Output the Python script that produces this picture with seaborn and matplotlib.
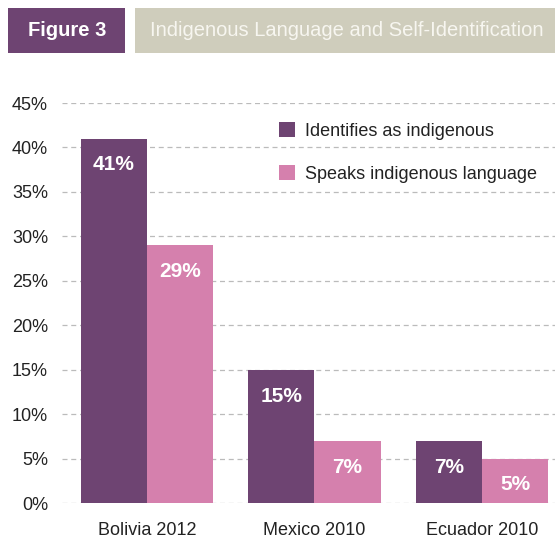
import matplotlib
matplotlib.use("Agg")
import matplotlib.pyplot as plt
from matplotlib.patches import Rectangle, Patch
import pandas as pd
import seaborn as sns

# Share of population (%) by census/survey
countries = ["Bolivia 2012", "Mexico 2010", "Ecuador 2010"]
identifies = [41, 15, 7]
speaks = [29, 7, 5]
series_names = ["Identifies as indigenous", "Speaks indigenous language"]
y_ticks = [0, 5, 10, 15, 20, 25, 30, 35, 40, 45]
y_tick_labels = [f"{t}%" for t in y_ticks]

PURPLE = "#6E4472"
PINK = "#D580AD"
HEADER_GREY = "#CFCDBC"
TEXT = "#222222"

df = pd.DataFrame({
    "country": countries * 2,
    "value": identifies + speaks,
    "series": [series_names[0]] * len(countries) + [series_names[1]] * len(countries),
})

sns.set_theme(style="white")
plt.rcParams["font.family"] = ["Liberation Sans", "DejaVu Sans"]

fig = plt.figure(figsize=(5.55, 5.44), dpi=100)
ax = fig.add_axes([62 / 555, 41 / 544, 1 - 62 / 555, 400 / 544])

sns.barplot(data=df, x="country", y="value", hue="series",
            palette=[PURPLE, PINK], saturation=1, width=0.79,
            ax=ax, legend=False, zorder=3, linewidth=0, edgecolor="none")

ax.set_xlim(-0.507, 2.436)
ax.set_ylim(0, 45)
ax.set_yticks(y_ticks)
ax.set_yticklabels(y_tick_labels)
ax.set_xlabel("")
ax.set_ylabel("")
ax.tick_params(axis="y", length=0, pad=10, labelsize=13, labelcolor=TEXT)
ax.tick_params(axis="x", length=0, pad=14, labelsize=13, labelcolor=TEXT)
for s in ax.spines.values():
    s.set_visible(False)
ax.yaxis.grid(True, linestyle=(0, (4, 3)), color="#BBBBBB", linewidth=0.9, zorder=0)
ax.set_axisbelow(True)

# Value labels inside the top of each bar
for container, vals in zip(ax.containers, [identifies, speaks]):
    for bar, v in zip(container, vals):
        ax.annotate(f"{v}%", (bar.get_x() + bar.get_width() / 2, bar.get_height()),
                    xytext=(0, -19), textcoords="offset points",
                    ha="center", va="center", color="white",
                    fontsize=15, fontweight="bold", zorder=4)

handles = [Patch(facecolor=PURPLE, edgecolor="none"),
           Patch(facecolor=PINK, edgecolor="none")]
leg = ax.legend(handles, series_names, loc="upper left",
                bbox_to_anchor=(279 / 555, 1 - 122 / 544), bbox_transform=fig.transFigure,
                frameon=False, fontsize=13, handlelength=0.9, handleheight=0.9,
                handletextpad=0.55, labelspacing=1.4, borderpad=0, borderaxespad=0)
for t in leg.get_texts():
    t.set_color(TEXT)

# Header band
fig.patches.append(Rectangle((8 / 555, 1 - 53 / 544), 117 / 555, 45 / 544,
                             transform=fig.transFigure, facecolor=PURPLE,
                             edgecolor="none", zorder=0))
fig.patches.append(Rectangle((135 / 555, 1 - 53 / 544), 1 - 135 / 555, 45 / 544,
                             transform=fig.transFigure, facecolor=HEADER_GREY,
                             edgecolor="none", zorder=0))
fig.text(67 / 555, 1 - 31 / 544, "Figure 3", color="white", fontsize=14.5,
         fontweight="bold", ha="center", va="center")
fig.text(150 / 555, 1 - 31 / 544, "Indigenous Language and Self-Identification",
         color="#F7F6F0", fontsize=14.5, ha="left", va="center")

fig.savefig("out.png", dpi=100)
